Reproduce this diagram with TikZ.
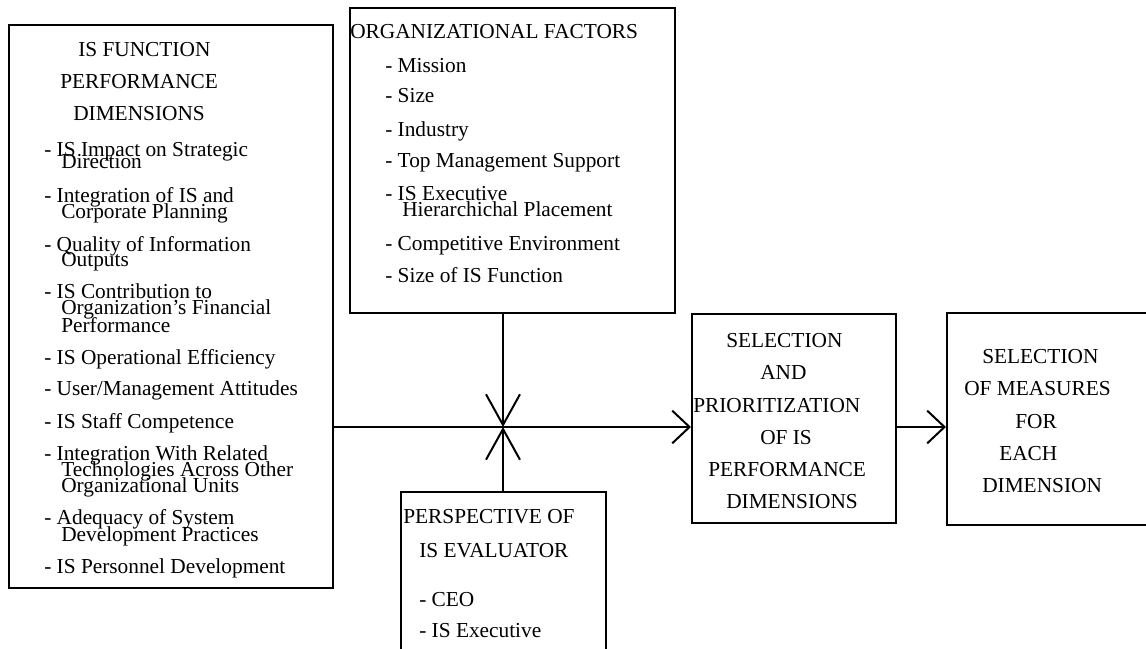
\documentclass[tikz,border=0pt]{standalone}
\usepackage{fontspec}
\setmainfont{Liberation Serif}
\usetikzlibrary{arrows.meta,fit}

\tikzset{
  box/.style={draw,line width=1.5pt,inner sep=0pt},
  txt/.style={anchor=base west,inner sep=0pt,font=\fontsize{16pt}{19pt}\selectfont},
  line/.style={line width=1.5pt},
  vtip/.style={line,-{Straight Barb[length=23pt,width=25.5pt]}},
  htip/.style={line,-{Straight Barb[length=13pt,width=24.5pt]}}
}

\begin{document}
\begin{tikzpicture}[x=0.75pt,y=-0.75pt]
\useasboundingbox (0,0) rectangle (1146,649);
\clip (0,0) rectangle (1146,649);      %画面边界

\node[box,fit={(9,25) (333,588)}] (dim) {};
\node[box,fit={(350,8) (675,313)}] (fac) {};
\node[box,fit={(401,492) (606,700)}] (eval) {};
\node[box,fit={(692,314) (896,523)}] (sel) {};
\node[box,fit={(947,313) (1200,525)}] (meas) {};   %方框

\coordinate (j) at (503,427);                       %汇合点

\foreach \x/\y/\t in {78/57/IS FUNCTION, 60/89/PERFORMANCE, 73/121/DIMENSIONS,
  44/157/- IS Impact on Strategic, 61/169/Direction,
  44/203/- Integration of IS and, 61/219/Corporate Planning,
  44/251/- Quality of Information, 61/266/Outputs,
  44/298/- IS Contribution to, 61/314/Organization's Financial, 61/332/Performance,
  44/364/- IS Operational Efficiency,
  44/395/{- User/Management Attitudes},
  44/428/- IS Staff Competence,
  44/460/- Integration With Related, 61/476/Technologies Across Other, 61/492/Organizational Units,
  44/524/- Adequacy of System, 61/541/Development Practices,
  44/573/- IS Personnel Development}
\node[txt] (dim-\y) at (\x,\y) {\t};                %左框文字

\foreach \x/\y/\t in {350/39/ORGANIZATIONAL FACTORS,
  385/73/- Mission, 385/103/- Size, 385/137/- Industry,
  385/168/- Top Management Support,
  385/200/- IS Executive, 402/217/Hierarchichal Placement,
  385/250/- Competitive Environment,
  385/282/- Size of IS Function}
\node[txt] (fac-\y) at (\x,\y) {\t};                %上框文字

\foreach \x/\y/\t in {403/523/PERSPECTIVE OF, 419/557/IS EVALUATOR,
  419/606/- CEO, 419/637/- IS Executive}
\node[txt] (eval-\y) at (\x,\y) {\t};               %下框文字

\foreach \x/\y/\t in {726/347/SELECTION, 760/379/AND, 693/412/PRIORITIZATION,
  760/444/OF IS, 708/476/PERFORMANCE, 726/508/DIMENSIONS}
\node[txt] (sel-\y) at (\x,\y) {\t};

\foreach \x/\y/\t in {982/363/SELECTION, 964/395/OF MEASURES, 1015/428/FOR,
  999/460/EACH, 982/492/DIMENSION}
\node[txt] (meas-\y) at (\x,\y) {\t};               %右侧两框文字

\draw[line] (dim.east |- j) -- (j);
\draw[vtip] (fac.south -| j) -- (j);
\draw[vtip] (eval.north -| j) -- (j);
\draw[htip] (j) -- (j -| sel.west);
\draw[htip] (sel.east |- j) -- (meas.west |- j);    %连线
\end{tikzpicture}
\end{document}
